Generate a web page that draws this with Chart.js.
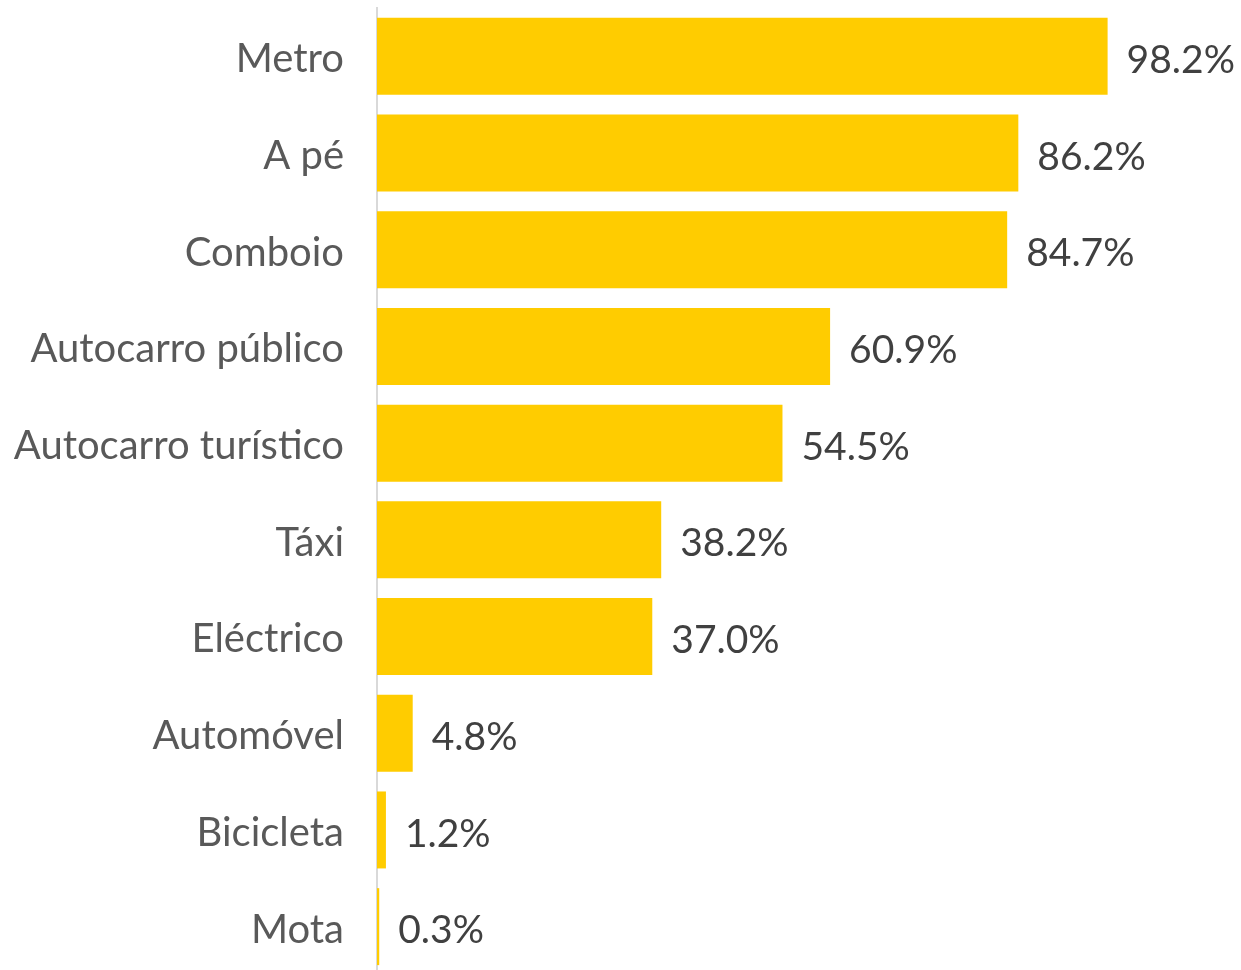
<!DOCTYPE html>
<html>
<head>
<meta charset="utf-8">
<script src="https://cdn.jsdelivr.net/npm/chart.js@4"></script>
<style>
  html, body { margin: 0; padding: 0; background: #fff; overflow: hidden; }
  #wrap { width: 1241px; height: 975px; }
</style>
</head>
<body>
<div id="wrap"><canvas id="graficoTransporte"></canvas></div>
<script>
// categorias e valores (%)
var categorias = ['Metro', 'A pé', 'Comboio', 'Autocarro público', 'Autocarro turístico', 'Táxi', 'Eléctrico', 'Automóvel', 'Bicicleta', 'Mota'];
var valores = [98.2, 86.2, 84.7, 60.9, 54.5, 38.2, 37.0, 4.8, 1.2, 0.3];

var fonte = 'Lato, "Open Sans", sans-serif';

// escreve o valor ao lado de cada barra
var rotulosValor = {
  id: 'rotulosValor',
  afterDatasetsDraw: function (chart) {
    var ctx = chart.ctx;
    var meta = chart.getDatasetMeta(0);
    ctx.save();
    ctx.font = '39px ' + fonte;
    ctx.fillStyle = '#404040';
    ctx.textAlign = 'left';
    ctx.textBaseline = 'middle';
    meta.data.forEach(function (bar, i) {
      ctx.fillText(valores[i].toFixed(1) + '%', bar.x + 19, bar.y + 4);
    });
    ctx.restore();
  }
};

var ctx = document.getElementById('graficoTransporte').getContext('2d');
var chart = new Chart(ctx, {
  type: 'bar',
  data: {
    labels: categorias,
    datasets: [{
      data: valores,
      backgroundColor: '#FFCC00',
      borderWidth: 0,
      barPercentage: 0.796,
      categoryPercentage: 1
    }]
  },
  options: {
    indexAxis: 'y',
    responsive: true,
    maintainAspectRatio: false,
    animation: false,
    layout: { padding: { top: 8, bottom: 0, right: 120, left: 0 } },
    plugins: {
      legend: { display: false },
      tooltip: { enabled: false }
    },
    scales: {
      x: { display: false, min: 0, max: 100 },
      y: {
        grid: { display: false, drawTicks: false },
        border: { display: true, color: '#D9D9D9', width: 2 },
        ticks: {
          color: '#595959',
          padding: 33,
          labelOffset: 3,
          font: { size: 40, family: fonte }
        },
        afterFit: function (scale) {
          scale.width = 377;
          scale.paddingTop = 0;
          scale.paddingBottom = 0;
        }
      }
    }
  },
  plugins: [rotulosValor]
});
</script>
</body>
</html>
